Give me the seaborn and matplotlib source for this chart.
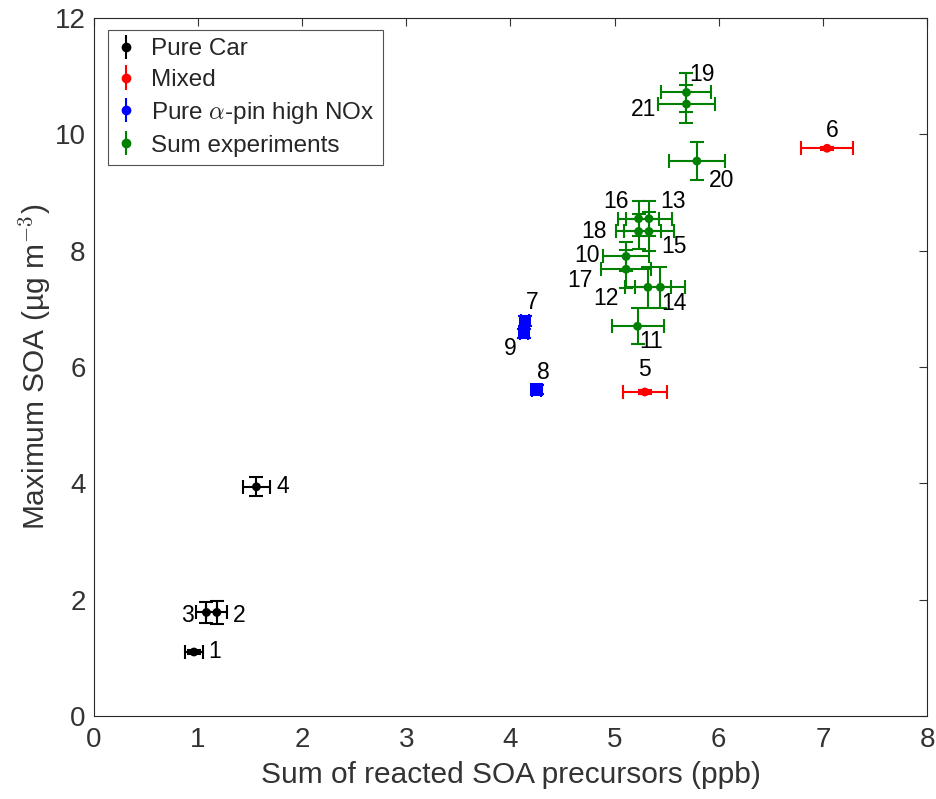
import matplotlib
matplotlib.use("Agg")
import matplotlib.pyplot as plt
import seaborn as sns
import pandas as pd

# experiment numbers and their group
exp_id = [1, 2, 3, 4, 5, 6, 7, 8, 9, 10, 11, 12, 13, 14, 15, 16, 17, 18, 19, 20, 21]
group = ["Pure Car"] * 4 + ["Mixed"] * 2 + ["Pure $\\alpha$-pin high NOx"] * 3 + ["Sum experiments"] * 12

# sum of reacted precursors (ppb) and max SOA (ug m-3)
precursors = [0.96, 1.18, 1.08, 1.56, 5.29, 7.04, 4.14, 4.25, 4.13, 5.11, 5.22, 5.32,
              5.33, 5.44, 5.33, 5.23, 5.11, 5.23, 5.69, 5.79, 5.69]
max_soa = [1.10, 1.78, 1.78, 3.94, 5.57, 9.76, 6.79, 5.61, 6.58, 7.90, 6.70, 7.37,
           8.55, 7.37, 8.33, 8.55, 7.68, 8.33, 10.72, 9.54, 10.52]
x_err = [0.09, 0.10, 0.10, 0.13, 0.21, 0.25, 0.04, 0.04, 0.04, 0.22, 0.25, 0.22,
         0.22, 0.24, 0.24, 0.20, 0.24, 0.22, 0.24, 0.27, 0.27]
y_err = [0.03, 0.20, 0.18, 0.16, 0.03, 0.03, 0.08, 0.08, 0.08, 0.25, 0.31, 0.35,
         0.30, 0.35, 0.33, 0.30, 0.33, 0.30, 0.33, 0.33, 0.33]

groups = ["Pure Car", "Mixed", "Pure $\\alpha$-pin high NOx", "Sum experiments"]
palette = {"Pure Car": "black", "Mixed": "red",
           "Pure $\\alpha$-pin high NOx": "blue", "Sum experiments": "green"}

df = pd.DataFrame({"id": exp_id, "group": group, "x": precursors, "y": max_soa,
                   "xerr": x_err, "yerr": y_err})

# label offsets in points (dx, dy)
label_off = {1: (15, 0), 2: (16, -2), 3: (-14, -2), 4: (19, 0), 5: (0, 16), 6: (4, 13),
             7: (5, 13), 8: (5, 12), 9: (-10, -11), 10: (-28, 1), 11: (10, -11),
             12: (-30, -8), 13: (17, 12), 14: (10, -12), 15: (18, -11), 16: (-16, 12),
             17: (-33, -8), 18: (-32, 0), 19: (11, 13), 20: (18, -14), 21: (-31, -4)}

sns.set_style("white")
plt.rcParams["font.family"] = ["Liberation Sans", "DejaVu Sans"]
plt.rcParams["mathtext.fontset"] = "cm"

fig, ax = plt.subplots(figsize=(9.36, 7.99), dpi=100)
fig.subplots_adjust(left=0.1004, right=0.9904, bottom=0.1039, top=0.9775)

for g in groups:
    sub = df[df["group"] == g]
    ax.errorbar(sub["x"], sub["y"], xerr=sub["xerr"], yerr=sub["yerr"], fmt="none",
                ecolor=palette[g], elinewidth=1.5, capsize=5, capthick=1.5, label=g, zorder=2)

sns.scatterplot(data=df[df["group"] != groups[2]], x="x", y="y", hue="group", palette=palette,
                s=40, edgecolor="none", legend=False, ax=ax, zorder=3)
sns.scatterplot(data=df[df["group"] == groups[2]], x="x", y="y", color="blue", marker="s",
                s=80, edgecolor="none", legend=False, ax=ax, zorder=3)

for _, r in df.iterrows():
    dx, dy = label_off[r["id"]]
    ax.annotate(str(r["id"]), (r["x"], r["y"]), xytext=(dx, dy), textcoords="offset points",
                ha="center", va="center", fontsize=16.5, color="black")

ax.set_xlim(0, 8)
ax.set_ylim(0, 12)
ax.set_xticks(range(0, 9))
ax.set_yticks(range(0, 13, 2))
ax.set_xlabel("Sum of reacted SOA precursors (ppb)", fontsize=21.5, color="#333333", labelpad=6)
ax.set_ylabel("Maximum SOA (\u00b5g m$^{-3}$)", fontsize=21.5, color="#333333", labelpad=1)
ax.tick_params(direction="in", top=True, right=True, labelsize=20, colors="#333333",
               length=6, width=0.8)
ax.tick_params(axis="x", pad=8)
ax.tick_params(axis="y", pad=6)
for s in ax.spines.values():
    s.set_color("#262626")
    s.set_linewidth(0.8)

# legend entries: a dot on a vertical errorbar
handles, labels = ax.get_legend_handles_labels()
new_handles = []
for lab in labels:
    c = palette[lab]
    new_handles.append(ax.errorbar([], [], yerr=[], fmt="o", color=c, ecolor=c, markersize=6,
                                   capsize=5, elinewidth=1.5, capthick=1.5))
leg = ax.legend(new_handles, labels, loc="upper left", bbox_to_anchor=(0.011, 0.99),
                fontsize=17.5, frameon=True, fancybox=False, edgecolor="#262626",
                handlelength=0.8, handletextpad=0.6, borderpad=0.35, labelspacing=0.36,
                borderaxespad=0.2)
leg.get_frame().set_linewidth(0.8)

plt.savefig("out.png", dpi=100)
